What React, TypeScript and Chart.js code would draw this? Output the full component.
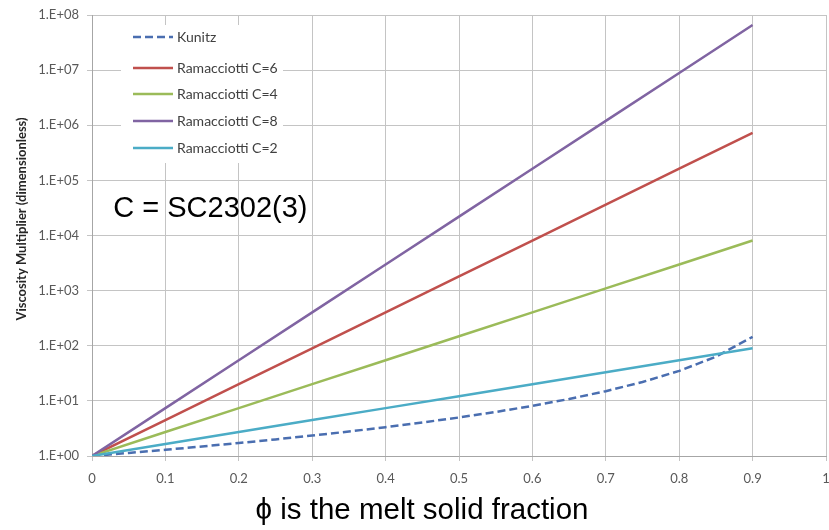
import React, { useEffect, useRef } from "react";
import { Chart, registerables } from "chart.js";

Chart.register(...registerables);

// Solid fraction samples
const phiDense = [0, 0.05, 0.1, 0.15, 0.2, 0.25, 0.3, 0.35, 0.4, 0.45, 0.5, 0.55, 0.6, 0.65, 0.7, 0.75, 0.8, 0.85, 0.9];
const phiCoarse = [0, 0.1, 0.2, 0.3, 0.4, 0.5, 0.6, 0.7, 0.8, 0.9];

// Viscosity multipliers
const kunitz = [1, 1.136, 1.296, 1.488, 1.719, 2.0, 2.347, 2.781, 3.333, 4.05, 5.0, 6.296, 8.125, 10.82, 15.0, 22.0, 35.0, 63.3, 145];
const ramC6 = [1, 4.482, 20.09, 90.02, 403.4, 1808, 8103, 36316, 162755, 729416];
const ramC4 = [1, 2.718, 7.389, 20.09, 54.6, 148.4, 403.4, 1097, 2981, 8103];
const ramC8 = [1, 7.389, 54.6, 403.4, 2981, 22026, 162755, 1202604, 8886111, 65659969];
const ramC2 = [1, 1.649, 2.718, 4.482, 7.389, 12.18, 20.09, 33.12, 54.6, 90.0];

const seriesNames = ["Kunitz", "Ramacciotti C=6", "Ramacciotti C=4", "Ramacciotti C=8", "Ramacciotti C=2"];
const seriesColors = ["#4A6EB0", "#C0504D", "#9BBB59", "#8064A2", "#4BACC6"];

const xTickLabels = ["0", "0.1", "0.2", "0.3", "0.4", "0.5", "0.6", "0.7", "0.8", "0.9", "1"];
const yTickValues = [1, 10, 100, 1e3, 1e4, 1e5, 1e6, 1e7, 1e8];
const yTickLabels = ["1.E+00", "1.E+01", "1.E+02", "1.E+03", "1.E+04", "1.E+05", "1.E+06", "1.E+07", "1.E+08"];

const yTitle = "Viscosity Multiplier (dimensionless)";
const xTitle = "\u03D5 is the melt solid fraction";
const noteText = "C = SC2302(3)";

const toPoints = (xs: number[], ys: number[]) => xs.map((x, i) => ({ x, y: ys[i] }));

// Free text: the C note, the vertical axis title and the large caption below the chart
const textPlugin = {
  id: "freeText",
  afterDraw(chart: any) {
    const { ctx, scales } = chart;
    ctx.save();
    ctx.fillStyle = "#000000";
    ctx.textBaseline = "alphabetic";
    ctx.textAlign = "left";
    ctx.font = '29px "Liberation Sans", Arial, sans-serif';
    ctx.fillText(noteText, scales.x.getPixelForValue(0.029), scales.y.getPixelForValue(2.2e4));
    ctx.textAlign = "center";
    ctx.font = '29.5px "Liberation Sans", Arial, sans-serif';
    ctx.fillText(xTitle, 422, 519);

    ctx.translate(22, 219);
    ctx.rotate(-Math.PI / 2);
    ctx.textBaseline = "middle";
    ctx.fillStyle = "#262626";
    ctx.font = 'bold 13px Lato, "Open Sans", sans-serif';
    ctx.fillText(yTitle, 0, 0);
    ctx.restore();
  },
};

// Boxed legend sitting inside the plot area
const legendPlugin = {
  id: "innerLegend",
  afterDatasetsDraw(chart: any) {
    const { ctx, chartArea } = chart;
    const bx = chartArea.left + 29;
    const by = chartArea.top + 10;
    ctx.save();
    ctx.fillStyle = "#FFFFFF";
    ctx.fillRect(bx, by, 162, 138);
    const rows = [12, 43, 69, 96, 123];
    chart.data.datasets.forEach((ds: any, i: number) => {
      const y = by + rows[i];
      ctx.strokeStyle = ds.borderColor;
      ctx.lineWidth = 2.5;
      ctx.setLineDash(ds.borderDash || []);
      ctx.beginPath();
      ctx.moveTo(bx + 12, y);
      ctx.lineTo(bx + 52, y);
      ctx.stroke();
      ctx.setLineDash([]);
      ctx.fillStyle = "#404040";
      ctx.font = '14px Lato, "Open Sans", sans-serif';
      ctx.textAlign = "left";
      ctx.textBaseline = "middle";
      ctx.fillText(ds.label, bx + 56, y);
    });
    ctx.restore();
  },
};

export default function App() {
  const canvasRef = useRef<HTMLCanvasElement | null>(null);

  useEffect(() => {
    const canvas = canvasRef.current;
    if (!canvas) return;
    const seriesData = [
      toPoints(phiDense, kunitz),
      toPoints(phiCoarse, ramC6),
      toPoints(phiCoarse, ramC4),
      toPoints(phiCoarse, ramC8),
      toPoints(phiCoarse, ramC2),
    ];
    const chart = new Chart(canvas, {
      type: "line",
      data: {
        datasets: seriesData.map((d, i) => ({
          label: seriesNames[i],
          data: d,
          borderColor: seriesColors[i],
          backgroundColor: seriesColors[i],
          borderWidth: 2.5,
          borderDash: i === 0 ? [8, 4] : [],
          pointRadius: 0,
          fill: false,
          tension: 0,
          order: 5 - i,
        })),
      },
      options: {
        responsive: false,
        animation: false,
        layout: { padding: { top: 15, right: 3, bottom: 0, left: 0 } },
        plugins: { legend: { display: false }, tooltip: { enabled: false } },
        scales: {
          x: {
            type: "linear",
            min: 0,
            max: 1,
            afterFit: (s: any) => {
              s.height = 74;
              s.paddingLeft = 0;
              s.paddingRight = 0;
            },
            afterBuildTicks: (s: any) => { s.ticks = xTickLabels.map((_, i) => ({ value: i / 10 })); },
            ticks: {
              callback: (_v: any, i: number) => xTickLabels[i],
              color: "#595959",
              font: { family: 'Lato, "Open Sans", sans-serif', size: 13 },
              padding: 10,
              maxRotation: 0,
            },
            grid: { color: "#C4C4C4", lineWidth: 1, tickLength: 5 },
            border: { color: "#A6A6A6" },
          },
          y: {
            type: "logarithmic",
            min: 1,
            max: 1e8,
            afterFit: (s: any) => {
              s.width = 92;
              s.paddingTop = 0;
              s.paddingBottom = 0;
            },
            afterBuildTicks: (s: any) => { s.ticks = yTickValues.map((v) => ({ value: v })); },
            ticks: {
              callback: (_v: any, i: number) => yTickLabels[i],
              color: "#595959",
              font: { family: 'Lato, "Open Sans", sans-serif', size: 13 },
              padding: 8,
            },
            grid: { color: "#C4C4C4", lineWidth: 1, tickLength: 5 },
            border: { color: "#A6A6A6" },
          },
        },
      },
      plugins: [legendPlugin, textPlugin],
    });
    return () => chart.destroy();
  }, []);

  return (
    <div style={{ position: "fixed", left: 0, top: 0, width: 829, height: 530, background: "#FFFFFF" }}>
      <canvas ref={canvasRef} width={829} height={530} />
    </div>
  );
}
